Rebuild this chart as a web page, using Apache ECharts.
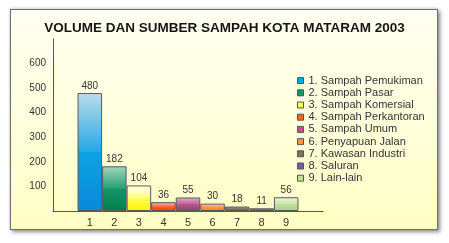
<!DOCTYPE html>
<html>
<head>
<meta charset="utf-8">
<script src="https://cdn.jsdelivr.net/npm/echarts@6/dist/echarts.min.js"></script>
<style>
  html, body { margin: 0; padding: 0; width: 449px; height: 243px; background: #ffffff; overflow: hidden; }
  #frame {
    position: absolute; left: 10px; top: 9px; width: 426px; height: 219px;
    border: 1px solid #6e6e6e;
    background: linear-gradient(to bottom, #fffff2 0%, #ffffd8 60%, #ffffc4 100%);
    box-shadow: 2px 2px 4px rgba(0,0,0,0.45), 0 -1px 3px rgba(0,0,0,0.15);
  }
  #chart { position: absolute; left: 0; top: 0; width: 449px; height: 243px; }
</style>
</head>
<body>
<div id="frame"></div>
<div id="chart"></div>
<script>
// Waste sources, Mataram 2003
const categories = ['1', '2', '3', '4', '5', '6', '7', '8', '9'];
const sourceNames = [
  '1. Sampah Pemukiman', '2. Sampah Pasar', '3. Sampah Komersial',
  '4. Sampah Perkantoran', '5. Sampah Umum', '6. Penyapuan Jalan',
  '7. Kawasan Industri', '8. Saluran', '9. Lain-lain'
];
const volumes = [480, 182, 104, 36, 55, 30, 18, 11, 56];
const yTicks = [100, 200, 300, 400, 500, 600];

// [top, upper-mid, lower-mid, bottom] shades per bar
const shades = [
  ['#bcdcea', '#22a8e6', '#0aa4e2', '#0a88dc'],
  ['#a4d6be', '#24a074', '#14966a', '#00804a'],
  ['#fffff0', '#ffff80', '#ffff58', '#fff200'],
  ['#ffb09a', '#ff6c40', '#ff6030', '#f03c00'],
  ['#e4b0ca', '#be6294', '#b8588c', '#9a3a70'],
  ['#ffd0a8', '#ff9a50', '#ff9444', '#ff7c1c'],
  ['#b0a49c', '#86766c', '#806e64', '#6a5850'],
  ['#a89cd0', '#7460ae', '#6e5aa8', '#5a4496'],
  ['#eef6de', '#c8e4a6', '#c2e09c', '#a8d47e']
];

// Empty slots pad the category axis on each side
const axisCats = [''].concat(categories, ['']);

function grad(c) {
  return new echarts.graphic.LinearGradient(0, 0, 0, 1, [
    { offset: 0, color: c[0] },
    { offset: 0.5, color: c[1] },
    { offset: 0.5, color: c[2] },
    { offset: 1, color: c[3] }
  ]);
}

const FONT = 'Liberation Sans, Arial, sans-serif';

const series = volumes.map(function (v, i) {
  const data = axisCats.map(function () { return null; });
  data[i + 1] = v;
  return {
    name: sourceNames[i],
    type: 'bar',
    stack: 'vol',
    barWidth: '100%',
    data: data,
    itemStyle: { color: grad(shades[i]), borderColor: '#5a5a5a', borderWidth: 1 },
    label: {
      show: true, position: 'top', distance: 2,
      color: '#333', fontSize: 10, fontFamily: FONT
    }
  };
});

const chart = echarts.init(document.getElementById('chart'), null, { renderer: 'canvas' });
chart.setOption({
  animation: false,
  backgroundColor: 'transparent',
  title: {
    text: 'VOLUME DAN SUMBER SAMPAH KOTA MATARAM 2003',
    left: 'center', top: 16,
    textStyle: { fontSize: 13.5, fontWeight: 'bold', color: '#141414', fontFamily: FONT }
  },
  legend: {
    orient: 'vertical', left: 292, top: 70,
    itemWidth: 6, itemHeight: 6, itemGap: 1,
    icon: 'rect',
    textStyle: { fontSize: 11, color: '#333', fontFamily: FONT, lineHeight: 11.2 },
    data: sourceNames.map(function (n, i) {
      return { name: n, itemStyle: { color: shades[i][2], borderColor: '#555', borderWidth: 1 } };
    })
  },
  grid: { left: 53, right: 126, top: 39, bottom: 32 },
  xAxis: {
    type: 'category',
    data: axisCats,
    axisLine: { lineStyle: { color: '#555', width: 1 } },
    axisTick: { show: false },
    axisLabel: { color: '#333', fontSize: 11, margin: 6, fontFamily: FONT }
  },
  yAxis: {
    type: 'value',
    min: 0, max: 700, interval: 100,
    axisLine: { show: true, lineStyle: { color: '#555', width: 1 } },
    axisTick: { show: false },
    splitLine: { show: false },
    axisLabel: {
      color: '#333', fontSize: 10, margin: 7, fontFamily: FONT,
      formatter: function (v) { return yTicks.indexOf(v) >= 0 ? String(v) : ''; }
    }
  },
  series: series
});
</script>
</body>
</html>
